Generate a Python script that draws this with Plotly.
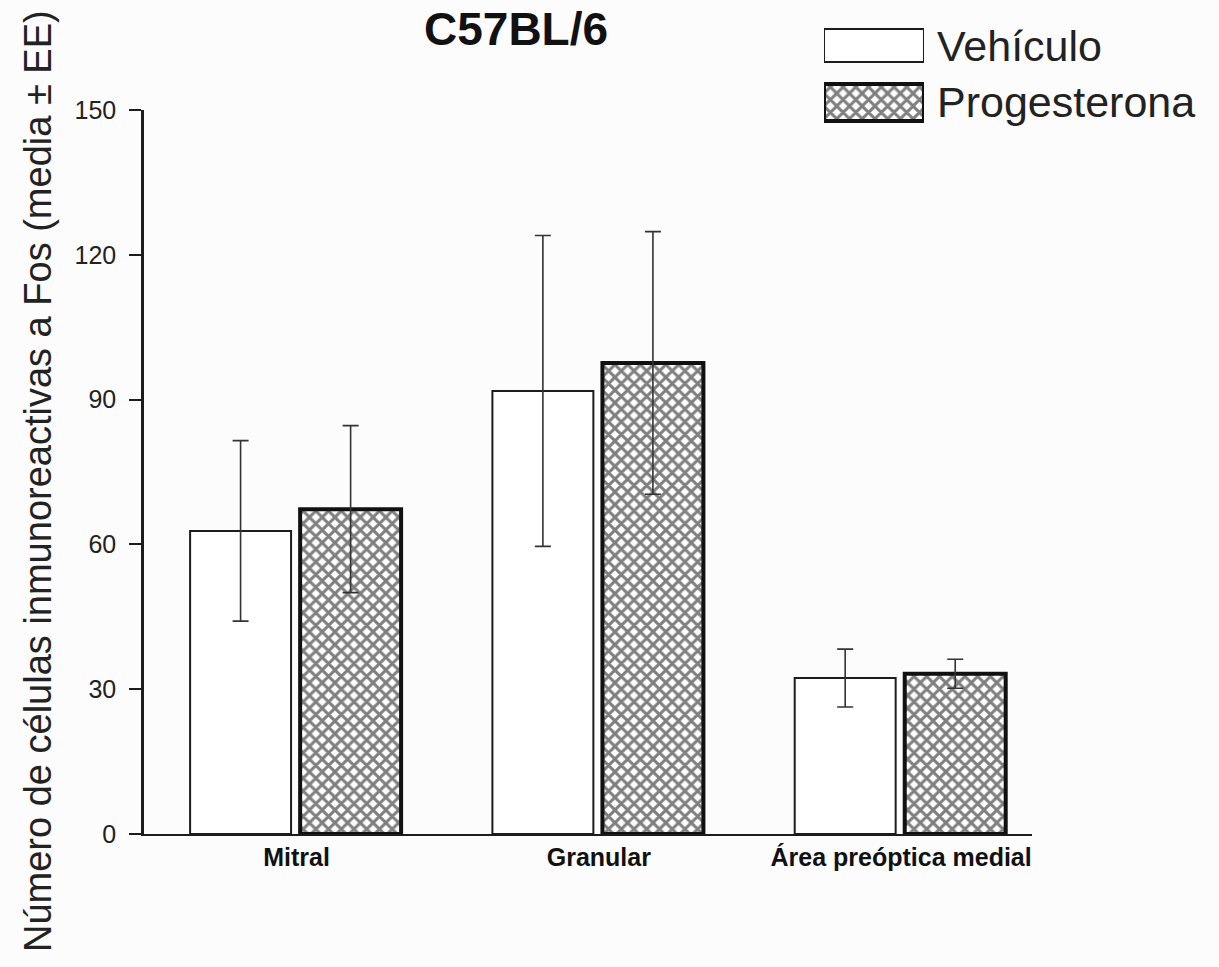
import plotly.graph_objects as go

# Regiones cerebrales y conteos (media ± EE)
regiones = ["Mitral", "Granular", "Área preóptica medial"]
vehiculo = [62.8, 91.8, 32.3]
vehiculo_ee = [18.7, 32.2, 6.0]
progesterona = [67.3, 97.6, 33.2]
progesterona_ee = [17.3, 27.2, 3.0]
nombres = ["Vehículo", "Progesterona"]
ticks_y = [0, 30, 60, 90, 120, 150]

W, H = 1219, 967
FONT = "Liberation Sans, Arial, sans-serif"
INK = "#1c1c1c"


def px_x(p):
    return p / W


def px_y(p):
    return 1 - p / H


trama = dict(shape="x", size=9, solidity=0.55, fgcolor="#000000",
             bgcolor="white", fillmode="overlay")

fig = go.Figure()

# Barras principales
fig.add_trace(go.Bar(
    x=regiones, y=vehiculo, name=nombres[0],
    width=0.334, offset=-0.352,
    marker=dict(color="white", line=dict(color=INK, width=2)),
    error_y=dict(type="data", array=vehiculo_ee, visible=True,
                 color="#333333", thickness=1.6, width=8),
    showlegend=False,
))
fig.add_trace(go.Bar(
    x=regiones, y=progesterona, name=nombres[1],
    width=0.334, offset=0.012,
    marker=dict(color="white", line=dict(color="#111111", width=4),
                pattern=trama),
    error_y=dict(type="data", array=progesterona_ee, visible=True,
                 color="#333333", thickness=1.6, width=8),
    showlegend=False,
))

# Cuadros de la leyenda
fig.add_trace(go.Bar(
    y=[nombres[0]], x=[1], orientation="h", xaxis="x2", yaxis="y2",
    width=0.58, offset=-0.29,
    marker=dict(color="white", line=dict(color=INK, width=2)),
    showlegend=False, hoverinfo="skip",
))
fig.add_trace(go.Bar(
    y=[nombres[1]], x=[1], orientation="h", xaxis="x2", yaxis="y2",
    width=0.65, offset=-0.325,
    marker=dict(color="white", line=dict(color="#111111", width=4),
                pattern=trama),
    showlegend=False, hoverinfo="skip",
))

annotations = [
    dict(text="<b>C57BL/6</b>", x=px_x(516), y=px_y(1), xref="paper", yref="paper",
         xanchor="center", yanchor="top", showarrow=False,
         font=dict(family=FONT, size=46, color="#111111")),
    dict(text="Número de células inmunoreactivas a Fos (media ± EE)",
         x=px_x(38), y=px_y(481), xref="paper", yref="paper", textangle=-90,
         xanchor="center", yanchor="middle", showarrow=False,
         font=dict(family=FONT, size=38, color="#222222")),
]
for nombre, yc in zip(nombres, [46, 102]):
    annotations.append(dict(
        text=nombre, x=px_x(935), y=px_y(yc), xref="paper", yref="paper",
        xanchor="left", yanchor="middle", showarrow=False,
        font=dict(family=FONT, size=43, color="#222222")))

fig.update_layout(
    width=W, height=H,
    margin=dict(l=0, r=0, t=0, b=0, pad=0, autoexpand=False),
    paper_bgcolor="#fcfcfc", plot_bgcolor="rgba(0,0,0,0)",
    barmode="overlay",
    showlegend=False,
    annotations=annotations,
    xaxis=dict(
        domain=[px_x(144), px_x(1032)],
        type="category", range=[-0.5045, 2.433],
        showline=True, linecolor=INK, linewidth=2,
        showgrid=False, zeroline=False, ticks="",
        tickfont=dict(family=FONT, size=25, color="#111111"),
        tickprefix="<b>", ticksuffix="</b>",
        automargin=False, anchor="y",
    ),
    yaxis=dict(
        domain=[px_y(834), px_y(110)],
        range=[0, 150], tickvals=ticks_y,
        showline=True, linecolor=INK, linewidth=2.5,
        showgrid=False, zeroline=False,
        ticks="outside", ticklen=12, tickwidth=2, tickcolor=INK,
        ticklabelstandoff=8,
        tickfont=dict(family=FONT, size=25, color="#222222"),
        automargin=False, anchor="x",
    ),
    xaxis2=dict(domain=[px_x(824), px_x(924)], range=[0, 1], visible=False,
                anchor="y2", fixedrange=True),
    yaxis2=dict(domain=[px_y(131), px_y(17)], type="category",
                categoryorder="array", categoryarray=[nombres[1], nombres[0]],
                range=[-0.5, 1.5], visible=False, anchor="x2", fixedrange=True),
)

fig.write_html("out.html")
